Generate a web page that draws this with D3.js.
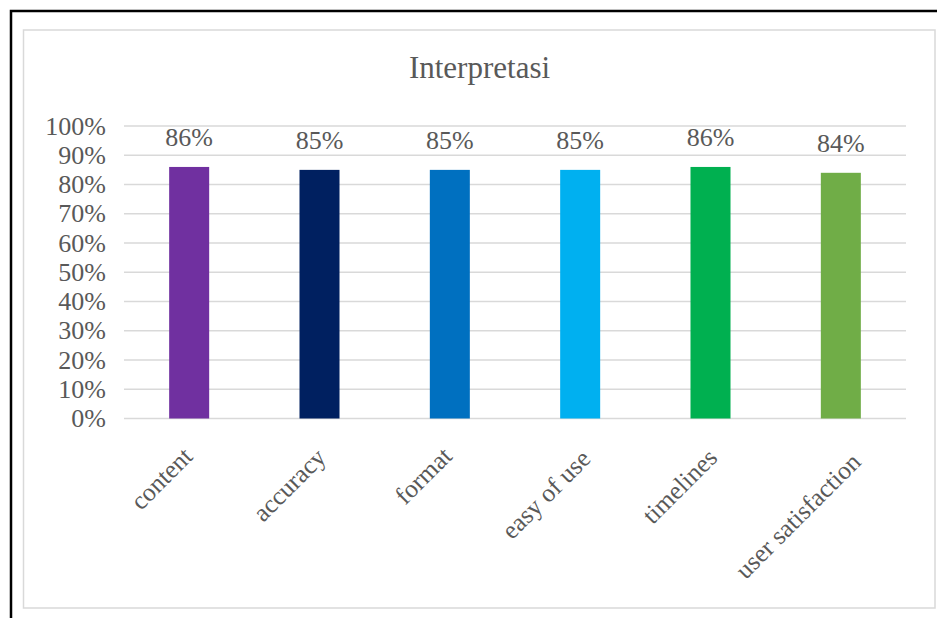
<!DOCTYPE html>
<html>
<head>
<meta charset="utf-8">
<script src="https://cdn.jsdelivr.net/npm/d3@7"></script>
<style>
  html, body { margin: 0; padding: 0; background: #fff; }
  svg { display: block; }
  text { font-family: "Liberation Serif", "Times New Roman", serif; fill: #595959; }
</style>
</head>
<body>
<div id="chart"></div>
<script>
// Chart content
const title = "Interpretasi";
const categories = ["content", "accuracy", "format", "easy of use", "timelines", "user satisfaction"];
const values = [0.86, 0.85, 0.85, 0.85, 0.86, 0.84];
const barColors = ["#7030A0", "#002060", "#0070C0", "#00B0F0", "#00B050", "#70AD47"];
const yTicks = [0, 0.1, 0.2, 0.3, 0.4, 0.5, 0.6, 0.7, 0.8, 0.9, 1.0];

const W = 937, H = 618;
const plot = { left: 124, right: 906, top: 126, bottom: 418.5 };

const svg = d3.select("#chart").append("svg")
  .attr("width", W).attr("height", H);

svg.append("rect").attr("width", W).attr("height", H).attr("fill", "#fff");

// outer frame
svg.append("rect")
  .attr("x", 11).attr("y", 11).attr("width", 1000).attr("height", 1000)
  .attr("fill", "none").attr("stroke", "#000").attr("stroke-width", 2.5);

// chart area border
svg.append("rect")
  .attr("x", 23.5).attr("y", 30).attr("width", 911.5).attr("height", 578)
  .attr("fill", "#fff").attr("stroke", "#d9d9d9").attr("stroke-width", 1.5);

const x = d3.scaleBand().domain(categories).range([plot.left, plot.right]).padding(0);
const y = d3.scaleLinear().domain([0, 1]).range([plot.bottom, plot.top]);
const barW = x.bandwidth() * 0.307;

// title
svg.append("text")
  .attr("x", 479.5).attr("y", 78)
  .attr("text-anchor", "middle")
  .style("font-size", "31px")
  .text(title);

// gridlines
svg.append("g").selectAll("line").data(yTicks).join("line")
  .attr("x1", plot.left).attr("x2", plot.right)
  .attr("y1", d => y(d)).attr("y2", d => y(d))
  .attr("stroke", "#d9d9d9").attr("stroke-width", 1.5);

// y tick labels
const fmt = d3.format(".0%");
svg.append("g").selectAll("text").data(yTicks).join("text")
  .attr("x", plot.left - 18)
  .attr("y", d => y(d))
  .attr("text-anchor", "end")
  .attr("dominant-baseline", "central")
  .style("font-size", "26px")
  .text(d => fmt(d));

// bars
svg.append("g").selectAll("rect").data(categories).join("rect")
  .attr("x", d => x(d) + x.bandwidth() / 2 - barW / 2)
  .attr("y", (d, i) => y(values[i]))
  .attr("width", barW)
  .attr("height", (d, i) => y(0) - y(values[i]))
  .attr("fill", (d, i) => barColors[i]);

// value labels
svg.append("g").selectAll("text").data(categories).join("text")
  .attr("x", d => x(d) + x.bandwidth() / 2)
  .attr("y", (d, i) => y(values[i]) - 21)
  .attr("text-anchor", "middle")
  .style("font-size", "26px")
  .text((d, i) => fmt(values[i]));

// rotated category labels, end of text placed under each bar
svg.append("g").selectAll("text").data(categories).join("text")
  .attr("text-anchor", "end")
  .style("font-size", "25.5px")
  .text(d => d)
  .each(function (d) {
    const len = this.getComputedTextLength();
    const cx = x(d) + x.bandwidth() / 2 + 0.185 * len - 9;
    const cy = 458 + 0.06 * (len - 74);
    d3.select(this).attr("transform", `translate(${cx},${cy}) rotate(-45)`);
  });
</script>
</body>
</html>
